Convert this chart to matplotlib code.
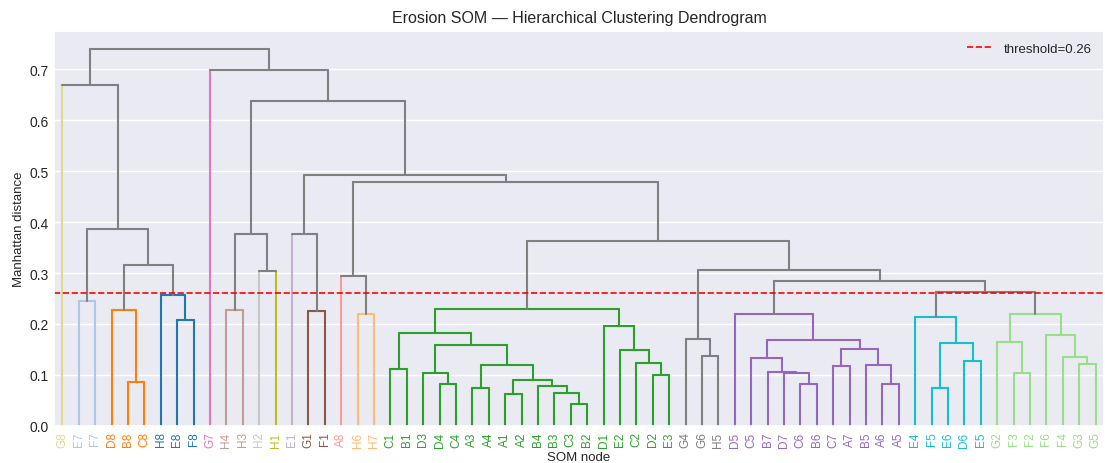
import matplotlib
matplotlib.use("Agg")
import seaborn as sns
from matplotlib import pyplot as plt

sns.set_theme(style="darkgrid")
plt.rcParams['font.family'] = ['Liberation Sans', 'DejaVu Sans']

# leaf order as drawn, left to right
leaves = ["G8", "E7", "F7", "D8", "B8", "C8", "H8", "E8", "F8", "G7",
          "H4", "H3", "H2", "H1", "E1", "G1", "F1", "A8", "H6", "H7",
          "C1", "B1", "D3", "D4", "C4", "A3", "A4", "A1", "A2", "B4",
          "B3", "C3", "B2", "D1", "E2", "C2", "D2", "E3", "G4", "G6",
          "H5", "D5", "C5", "B7", "D7", "C6", "B6", "C7", "A7", "B5",
          "A6", "A5", "E4", "F5", "E6", "D6", "E5", "G2", "F3", "F2",
          "F6", "F4", "G3", "G5"]

# cluster colour of each leaf (same order)
leaf_colors = (["#dbdb8d"] + ["#aec7e8"] * 2 + ["#ff7f0e"] * 3 + ["#1f77b4"] * 3
               + ["#e377c2"] + ["#c49c94"] * 2 + ["#c7c7c7"] + ["#bcbd22"]
               + ["#c5b0d5"] + ["#8c564b"] * 2 + ["#ff9896"] + ["#ffbb78"] * 2
               + ["#2ca02c"] * 18 + ["#7f7f7f"] * 3 + ["#9467bd"] * 11
               + ["#17becf"] * 5 + ["#98df8a"] * 7)

# merges: (name, left, right, distance)
merges = [
    ("m1", "E7", "F7", 0.246), ("m2", "B8", "C8", 0.086), ("m3", "D8", "m2", 0.228),
    ("m4", "E8", "F8", 0.208), ("m5", "H8", "m4", 0.256), ("m6", "m3", "m5", 0.315),
    ("m7", "m1", "m6", 0.387), ("m8", "G8", "m7", 0.669),
    ("m9", "H4", "H3", 0.227), ("m10", "H2", "H1", 0.304), ("m11", "m9", "m10", 0.376),
    ("m12", "G1", "F1", 0.225), ("m13", "E1", "m12", 0.376),
    ("m14", "H6", "H7", 0.219), ("m15", "A8", "m14", 0.295),
    ("g1", "C1", "B1", 0.112), ("g2", "D4", "C4", 0.0825), ("g3", "D3", "g2", 0.104),
    ("g4", "A3", "A4", 0.074), ("g5", "A1", "A2", 0.0616), ("g6", "C3", "B2", 0.042),
    ("g7", "B3", "g6", 0.064), ("g8", "B4", "g7", 0.078), ("g9", "g5", "g8", 0.0897),
    ("g10", "g4", "g9", 0.120), ("g11", "g3", "g10", 0.158), ("g12", "g1", "g11", 0.183),
    ("g13", "D2", "E3", 0.0996), ("g14", "C2", "g13", 0.124), ("g15", "E2", "g14", 0.149),
    ("g16", "D1", "g15", 0.197), ("g17", "g12", "g16", 0.229),
    ("k1", "G6", "H5", 0.1375), ("k2", "G4", "k1", 0.171),
    ("p1", "C6", "B6", 0.0825), ("p2", "D7", "p1", 0.1035), ("p3", "B7", "p2", 0.106),
    ("p4", "C5", "p3", 0.133), ("p5", "C7", "A7", 0.118), ("p6", "A6", "A5", 0.083),
    ("p7", "B5", "p6", 0.120), ("p8", "p5", "p7", 0.150), ("p9", "p4", "p8", 0.168),
    ("p10", "D5", "p9", 0.219),
    ("c1", "F5", "E6", 0.0753), ("c2", "D6", "E5", 0.128), ("c3", "c1", "c2", 0.1625),
    ("c4", "E4", "c3", 0.214),
    ("l1", "F3", "F2", 0.104), ("l2", "G2", "l1", 0.164), ("l3", "G3", "G5", 0.121),
    ("l4", "F4", "l3", 0.1355), ("l5", "F6", "l4", 0.179), ("l6", "l2", "l5", 0.220),
    ("u1", "c4", "l6", 0.263), ("u2", "p10", "u1", 0.285), ("u3", "k2", "u2", 0.306),
    ("u4", "g17", "u3", 0.362), ("u5", "m15", "u4", 0.479), ("u6", "m13", "u5", 0.492),
    ("u7", "m11", "u6", 0.637), ("u8", "G7", "u7", 0.699), ("root", "m8", "u8", 0.739),
]

threshold = 0.26
above_color = "#808080"

# node positions
pos = {}
height = {}
color = {}
for i, name in enumerate(leaves):
    pos[name] = 5 + 10 * i
    height[name] = 0.0
    color[name] = leaf_colors[i]

fig, ax = plt.subplots(figsize=(11.05, 4.64), dpi=100)
lw = 1.5

for name, a, b, h in merges:
    pos[name] = (pos[a] + pos[b]) / 2
    height[name] = h
    node_col = color[a] if h < threshold else above_color
    color[name] = node_col
    for child in (a, b):
        if child in leaves:
            c = color[child]
        else:
            c = node_col
        ax.plot([pos[child], pos[child]], [height[child], h], color=c, lw=lw)
    ax.plot([pos[a], pos[b]], [h, h], color=node_col, lw=lw)

ax.axhline(threshold, color="red", linestyle="--", lw=1.2, label=f"threshold={threshold}")

ax.set_xlim(0, 10 * len(leaves))
ax.set_ylim(0, 0.739 * 1.05)
ax.set_xticks([5 + 10 * i for i in range(len(leaves))])
ax.set_xticklabels(leaves, rotation=90, fontsize=8.5)
for lab, c in zip(ax.get_xticklabels(), leaf_colors):
    lab.set_color(c)
ax.tick_params(axis="x", length=0, pad=4)
ax.tick_params(axis="y", length=0, labelsize=10, pad=4)
ax.grid(axis="x", visible=False)

ax.set_title("Erosion SOM — Hierarchical Clustering Dendrogram", fontsize=11.5)
ax.set_xlabel("SOM node", fontsize=9.5, labelpad=3)
ax.set_ylabel("Manhattan distance", fontsize=9.5, labelpad=3)
ax.legend(loc="upper right", frameon=False, fontsize=9.5)

fig.subplots_adjust(left=0.049, right=0.999, top=0.932, bottom=0.08)
fig.savefig("out.png")
